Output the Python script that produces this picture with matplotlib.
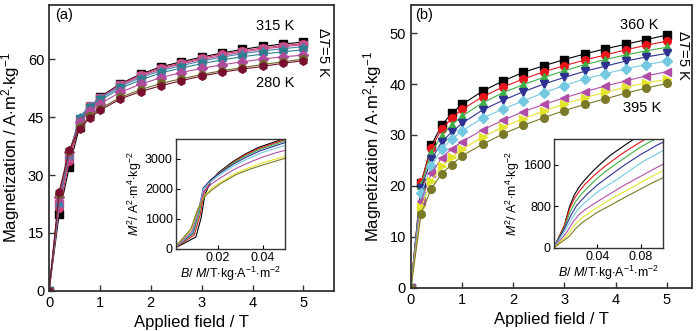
import matplotlib
matplotlib.use('Agg')
import matplotlib.pyplot as plt
import numpy as np

plt.rcParams['font.family'] = ['Liberation Sans', 'DejaVu Sans']
plt.rcParams['mathtext.fontset'] = 'custom'
plt.rcParams['mathtext.rm'] = 'Liberation Sans'
plt.rcParams['mathtext.it'] = 'Liberation Sans:italic'

# applied field (T), same grid for both samples
field = [0, 0.2, 0.4, 0.6, 0.8, 1.0, 1.4, 1.8, 2.2, 2.6, 3.0, 3.4, 3.8, 4.2, 4.6, 5.0]

# (a) magnetization, 315 K -> 280 K
temps_a = [315, 310, 305, 300, 295, 290, 285, 280]
m_315 = [0, 19.9, 32.2, 42.5, 47.5, 50.2, 53.6, 56.1, 58.0, 59.3, 60.5, 61.6, 62.5, 63.3, 63.9, 64.4]
m_310 = [0, 21.5, 33.5, 43.5, 47.6, 50.0, 53.4, 55.9, 57.7, 59.0, 60.2, 61.3, 62.1, 62.9, 63.5, 64.0]
m_305 = [0, 22.5, 34.5, 44.5, 47.8, 49.9, 53.2, 55.6, 57.4, 58.7, 59.9, 60.9, 61.8, 62.6, 63.2, 63.7]
m_300 = [0, 23.0, 35.5, 45.0, 47.9, 49.8, 52.9, 55.2, 57.0, 58.3, 59.5, 60.5, 61.4, 62.1, 62.7, 63.2]
m_295 = [0, 23.5, 35.8, 44.6, 47.4, 49.3, 52.4, 54.6, 56.4, 57.7, 58.8, 59.8, 60.6, 61.3, 61.9, 62.4]
m_290 = [0, 24.2, 36.0, 43.8, 46.5, 48.4, 51.4, 53.5, 55.2, 56.5, 57.6, 58.5, 59.3, 60.0, 60.6, 61.0]
m_285 = [0, 25.2, 36.3, 42.4, 45.2, 47.1, 50.1, 52.1, 53.7, 54.9, 56.0, 57.0, 57.8, 58.6, 59.3, 60.0]
m_280 = [0, 25.7, 36.5, 42.0, 44.7, 46.7, 49.7, 51.6, 53.1, 54.4, 55.6, 56.6, 57.4, 58.1, 58.9, 59.6]
series_a = [m_315, m_310, m_305, m_300, m_295, m_290, m_285, m_280]

# (b) magnetization, 360 K -> 395 K
temps_b = [360, 365, 370, 375, 380, 385, 390, 395]
m_360 = [0, 20.6, 28.0, 31.9, 34.3, 36.0, 38.6, 40.6, 42.3, 43.6, 44.8, 45.9, 46.9, 47.8, 48.7, 49.6]
m_365 = [0, 20.7, 27.5, 31.1, 33.3, 35.0, 37.5, 39.4, 41.0, 42.4, 43.6, 44.7, 45.7, 46.7, 47.6, 48.4]
m_370 = [0, 20.1, 26.5, 29.9, 32.0, 33.7, 36.3, 38.3, 39.9, 41.3, 42.6, 43.8, 44.8, 45.7, 46.5, 47.2]
m_375 = [0, 19.6, 25.2, 28.6, 30.6, 32.3, 34.9, 36.8, 38.5, 40.0, 41.3, 42.5, 43.5, 44.5, 45.3, 46.0]
m_380 = [0, 18.6, 23.9, 27.2, 29.2, 30.8, 33.3, 35.1, 36.7, 38.3, 39.7, 41.0, 42.0, 43.0, 43.8, 44.5]
m_385 = [0, 17.1, 22.5, 25.5, 27.3, 28.7, 31.0, 32.9, 34.6, 36.0, 37.3, 38.5, 39.6, 40.6, 41.6, 42.4]
m_390 = [0, 15.8, 21.0, 23.9, 25.6, 27.2, 29.6, 31.6, 33.2, 34.7, 36.1, 37.3, 38.4, 39.4, 40.2, 40.9]
m_395 = [0, 14.6, 19.5, 22.4, 24.2, 25.9, 28.2, 30.2, 31.9, 33.4, 34.8, 36.0, 37.1, 38.2, 39.2, 40.1]
series_b = [m_360, m_365, m_370, m_375, m_380, m_385, m_390, m_395]

# styles
colors_a = ['#000000', '#d8336b', '#c0508a', '#4682b4', '#2a7f8e', '#b04a9a', '#6b6b2a', '#7a1030']
markers_a = ['s', 'o', 's', '^', 'v', 'D', 'o', 'h']
colors_b = ['#000000', '#e8141c', '#3cb043', '#2e3192', '#74c8e2', '#b14ea8', '#e3e32c', '#7a7a28']
markers_b = ['s', 'o', '^', 'v', 'D', '<', '>', 'o']

fig = plt.figure(figsize=(7.0, 3.31), dpi=100)
ax_a = fig.add_axes([0.070, 0.121, 0.407, 0.864])
ax_b = fig.add_axes([0.587, 0.130, 0.402, 0.855])
in_a = fig.add_axes([0.251, 0.248, 0.156, 0.332])
in_b = fig.add_axes([0.791, 0.251, 0.156, 0.329])

H = np.array(field)


def arrott(m):
    m = np.array(m)
    x = np.zeros_like(H)
    x[m > 0] = H[m > 0] / m[m > 0]
    return x, m ** 2


for m, c, mk in zip(series_a, colors_a, markers_a):
    ax_a.plot(field, m, color=c, marker=mk, ms=5.5, lw=0.8, mec=c)
for m, c in zip(series_a, colors_b):
    x, y = arrott(m)
    in_a.plot(x, y, color=c, lw=0.8)

for m, c, mk in zip(series_b, colors_b, markers_b):
    ax_b.plot(field, m, color=c, marker=mk, ms=5.5, lw=0.8, mec=c)
for m, c in zip(series_b, colors_b):
    x, y = arrott(m)
    in_b.plot(x, y, color=c, lw=0.8)

# main axes
ax_a.set_xlim(0, 5.6)
ax_a.set_ylim(0, 74)
ax_a.set_yticks([0, 15, 30, 45, 60])
ax_b.set_xlim(0, 5.5)
ax_b.set_ylim(0, 55.5)
ax_b.set_yticks([0, 10, 20, 30, 40, 50])
for ax in [ax_a, ax_b]:
    ax.set_xticks([0, 1, 2, 3, 4, 5])
    ax.tick_params(direction='in', labelsize=10.5, length=4, width=1, colors='#333333', labelcolor='black')
    ax.set_xlabel('Applied field / T', fontsize=12)
    ax.set_ylabel('Magnetization / A$\\cdot$m$^2$$\\cdot$kg$^{-1}$', fontsize=12)
    for s in ax.spines.values():
        s.set_linewidth(1.3)
        s.set_color('#333333')

ax_a.text(0.02, 0.965, '(a)', transform=ax_a.transAxes, fontsize=10.5, va='center')
ax_a.text(0.793, 0.927, '315 K', transform=ax_a.transAxes, fontsize=10.5, ha='center', va='center')
ax_a.text(0.793, 0.727, '280 K', transform=ax_a.transAxes, fontsize=10.5, ha='center', va='center')
ax_a.text(0.961, 0.832, '$\\Delta T$=5 K', transform=ax_a.transAxes, fontsize=10.5,
          ha='center', va='center', rotation=-90)

ax_b.text(0.014, 0.965, '(b)', transform=ax_b.transAxes, fontsize=10.5, va='center')
ax_b.text(0.811, 0.929, '360 K', transform=ax_b.transAxes, fontsize=10.5, ha='center', va='center')
ax_b.text(0.822, 0.636, '395 K', transform=ax_b.transAxes, fontsize=10.5, ha='center', va='center')
ax_b.text(0.968, 0.823, '$\\Delta T$=5 K', transform=ax_b.transAxes, fontsize=10.5,
          ha='center', va='center', rotation=-90)

# insets
in_a.set_xlim(0.001, 0.05)
in_a.set_ylim(0, 3650)
in_a.set_xticks([0.02, 0.04])
in_a.set_yticks([0, 1000, 2000, 3000])
in_b.set_xlim(0, 0.1)
in_b.set_ylim(0, 2100)
in_b.set_xticks([0.04, 0.08])
in_b.set_yticks([0, 800, 1600])
for ax in [in_a, in_b]:
    ax.tick_params(direction='in', labelsize=9, length=3, width=0.8, pad=2)
    ax.set_xlabel('$B$/ $M$/T$\\cdot$kg$\\cdot$A$^{-1}$$\\cdot$m$^{-2}$', fontsize=9, labelpad=1)
    ax.set_ylabel('$M^2$/ A$^2$$\\cdot$m$^4$$\\cdot$kg$^{-2}$', fontsize=9, labelpad=1)
    for s in ax.spines.values():
        s.set_linewidth(1.0)
        s.set_color('#333333')

plt.savefig('out.png', dpi=100)
